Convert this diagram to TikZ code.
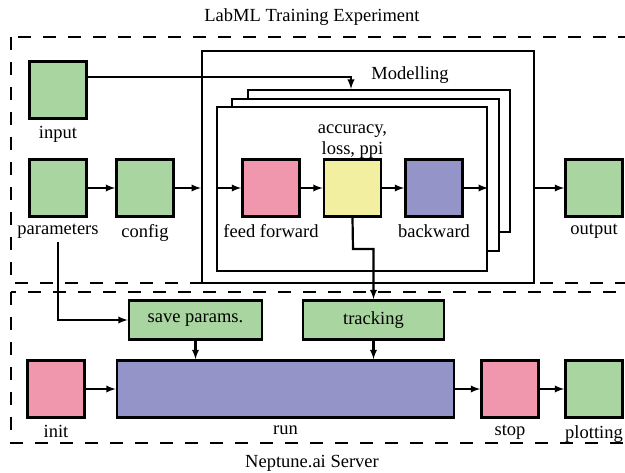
\documentclass[tikz,border=0pt]{standalone}
\usepackage{fontspec}
\setmainfont{Liberation Serif}
\usetikzlibrary{arrows,positioning}

\definecolor{boxgreen}{RGB}{168,213,160}
\definecolor{boxpink}{RGB}{240,150,173}
\definecolor{boxyellow}{RGB}{242,239,160}
\definecolor{boxpurple}{RGB}{148,148,200}

\tikzset{
  block/.style={draw, rectangle, line width=2.6pt, minimum size=57pt, inner sep=0pt},
  frame/.style={draw, rectangle, line width=2.2pt, fill=white, inner sep=0pt},
  region/.style={draw, line width=2.6pt, dash pattern=on 13pt off 12pt},
  link/.style={->, >=latex, line width=2.2pt}
}

\begin{document}
\begin{tikzpicture}[x=1pt, y=-1pt, node distance=81.5pt, label distance=3pt,
                font=\fontsize{18.5}{21}\selectfont]
        \useasboundingbox (0,0) rectangle (625,473);
        \clip (0,0) rectangle (625,473);

%% regions
        \draw [region] (11,37) rectangle (650,283);
        \draw [region] (11,292) rectangle (650,443);
        \node (labml) at (312,17) {LabML Training Experiment};
        \node (neptune) at (312,463) {Neptune.ai Server};

%% modelling stack
        \node [frame, minimum width=332pt, minimum height=232pt] (modelling) at (368,167) {};
        \node (modlabel) at (410,75) {Modelling};
        \node [frame, minimum width=262pt, minimum height=142pt] (back) at (379,161) {};
        \node [frame, minimum width=267pt, minimum height=152pt] (middle) at (365.5,175) {};
        \node [frame, minimum width=270pt, minimum height=164pt] (front) at (352,189) {};

%% experiment
        \node [block, fill=boxgreen, label={[name=inputlab]below:input}] (input) at (58,90) {};
        \node [block, fill=boxgreen, label={[name=paramlab]below:parameters}] (params) at (58,188) {};
        \node [block, fill=boxgreen, right of=params, node distance=87pt,
               label={[name=configlab]below:config}] (config) {};
        \node [block, fill=boxpink, label={[name=feedlab]below:feed forward}] (feed) at (271,188) {};
        \node [block, fill=boxyellow, right of=feed,
               label={[name=metricslab, align=center, yshift=-7pt]above:accuracy,\\loss, ppi}] (metrics) {};
        \node [block, fill=boxpurple, right of=metrics,
               label={[name=backwardlab]below:backward}] (backward) {};
        \node [block, fill=boxgreen, label={[name=outputlab]below:output}] (output) at (594,188) {};

%% server
        \node [block, fill=boxgreen, minimum width=133pt, minimum height=39pt] (save) at (195.5,320) {save params.};
        \node [block, fill=boxgreen, minimum width=141pt, minimum height=39pt] (tracking) at (373.5,320) {tracking};
        \node [block, fill=boxpink, label={[name=initlab]below:init}] (init) at (56,389) {};
        \node [block, fill=boxpurple, minimum width=337pt, label={[name=runlab]below:run}] (run) at (285.5,389) {};
        \node [block, fill=boxpink, label={[name=stoplab]below:stop}] (stop) at (510,389) {};
        \node [block, fill=boxgreen, right of=stop, node distance=84pt,
               label={[name=plottinglab]below:plotting}] (plotting) {};
        \coordinate (bend) at (353,249);

%% paths
        \path [link]
                (params) edge (config)
                (config.east) edge (config.east -| modelling.west)
                (feed.west -| front.west) edge (feed)
                (feed) edge (metrics)
                (metrics) edge (backward)
                (backward) edge (backward.east -| front.east)
                (output.west -| modelling.east) edge (output)
                (init) edge (run)
                (run) edge (stop)
                (stop) edge (plotting)
                (save) edge (save |- run.north)
                (tracking) edge (tracking |- run.north)
                ;
        \draw [link] ([yshift=13pt]input.east) -| ([xshift=-28pt]back.north);
        \draw [link] (paramlab.south) |- (save.west);
        \draw [link] (metrics.south) -- (bend) -| (tracking.north);
\end{tikzpicture}
\end{document}
